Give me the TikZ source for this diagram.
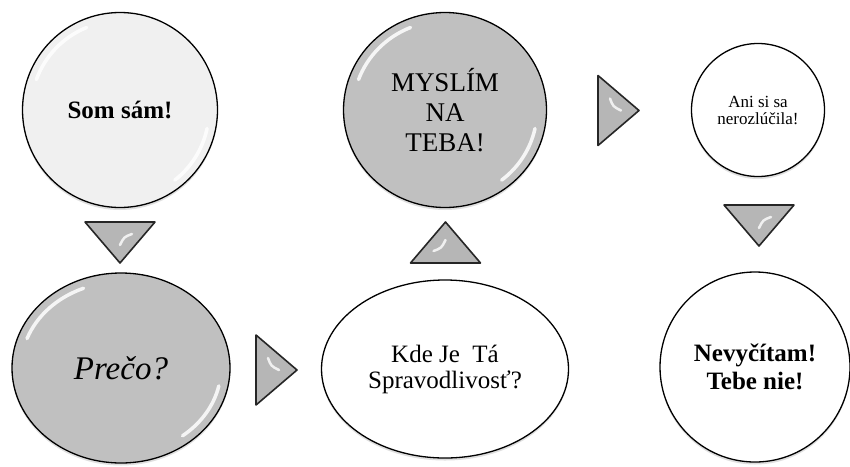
\documentclass[tikz,border=0pt]{standalone}
\usepackage{fontspec}
\setmainfont{Liberation Serif}
\usetikzlibrary{shapes.geometric,shadows}
\definecolor{lightbubble}{HTML}{F0F0F0}
\definecolor{darkbubble}{HTML}{C0C0C0}
\definecolor{trifill}{HTML}{B6B6B6}
\tikzset{
  bubble/.style={ellipse,draw=black,line width=1.3pt,inner sep=0pt,align=center,
    drop shadow={opacity=0.25,shadow xshift=0pt,shadow yshift=-2.5pt}},
  gloss/.style={white,line width=3.5pt,line cap=round,opacity=0.85},
  tri/.style={fill=trifill,draw=black!85,line width=1.6pt,line join=round},
  trigloss/.style={white,line width=2.5pt,line cap=round,opacity=0.8},
  arrowtri/.pic={
    \filldraw[tri] (0,-35) -- (41,0) -- (0,35) -- cycle;
    \draw[trigloss] (12,-12) .. controls (15,-4) .. (23,0);
  }
}
% white rims inside a bubble: node, x radius, y radius (in pt)
\newcommand{\gloss}[3]{%
  \draw[gloss] (#1.center) ++(112:#2pt and #3pt) arc[start angle=112,end angle=160,x radius=#2pt,y radius=#3pt];
  \draw[gloss] (#1.center) ++(-12:#2pt and #3pt) arc[start angle=-12,end angle=-52,x radius=#2pt,y radius=#3pt];}
\begin{document}
\begin{tikzpicture}[x=1pt,y=-1pt]
  \useasboundingbox[fill=white] (0,0) rectangle (850,466);
  % bubbles
  \node[bubble,fill=lightbubble,minimum width=195pt,minimum height=195pt,
    font=\fontsize{25}{28}\selectfont\bfseries] (som) at (120,110) {Som sám!};
  \node[bubble,fill=darkbubble,minimum width=218pt,minimum height=190pt,
    font=\fontsize{33}{36}\selectfont\itshape] (preco) at (121,368) {Prečo?};
  \node[bubble,fill=white,minimum width=247pt,minimum height=178pt,
    font=\fontsize{25}{26}\selectfont] (kde) at (445,369) {Kde Je\ \ Tá\\Spravodlivosť?};
  \node[bubble,fill=darkbubble,minimum width=203pt,minimum height=195pt,
    font=\fontsize{27}{30}\selectfont] (myslim) at (445,110) {MYSLÍM\\NA\\TEBA!};
  \node[bubble,fill=white,minimum width=133pt,minimum height=133pt,
    font=\fontsize{17}{17}\selectfont] (ani) at (758,110) {Ani si sa\\nerozlúčila!};
  \node[bubble,fill=white,minimum width=190pt,minimum height=190pt,
    font=\fontsize{25}{28}\selectfont\bfseries] (nevy) at (755,367) {Nevyčítam!\\Tebe nie!};
  \gloss{som}{89}{89}
  \gloss{preco}{100}{86}
  \gloss{myslim}{92}{89}
  % arrows between the bubbles
  \pic[rotate=-90] at (120,222) {arrowtri};
  \pic at (256,370) {arrowtri};
  \pic[rotate=90] at (445.5,263) {arrowtri};
  \pic at (598,110.5) {arrowtri};
  \pic[rotate=-90] at (759,205) {arrowtri};
\end{tikzpicture}
\end{document}
